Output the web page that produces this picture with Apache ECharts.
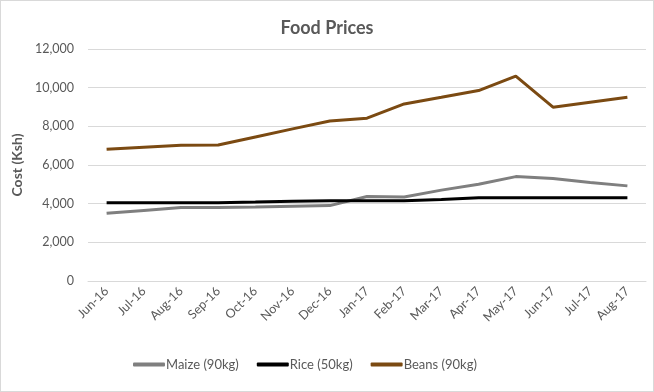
<!DOCTYPE html>
<html>
<head>
<meta charset="utf-8">
<script src="https://cdn.jsdelivr.net/npm/echarts@6/dist/echarts.min.js"></script>
<style>
html,body{margin:0;padding:0;background:#fff;}
#c{width:652px;height:390px;border:1px solid #d9d9d9;}
</style>
</head>
<body>
<div id="c"></div>
<script>
const categories = ['Jun-16','Jul-16','Aug-16','Sep-16','Oct-16','Nov-16','Dec-16','Jan-17','Feb-17','Mar-17','Apr-17','May-17','Jun-17','Jul-17','Aug-17'];
const maize = [3500, 3650, 3800, 3800, 3830, 3870, 3900, 4370, 4350, 4700, 5000, 5400, 5300, 5100, 4920];
const rice  = [4050, 4050, 4050, 4050, 4080, 4120, 4150, 4150, 4150, 4220, 4300, 4300, 4300, 4300, 4300];
const beans = [6820, 6920, 7020, 7030, 7450, 7870, 8280, 8420, 9160, 9500, 9850, 10600, 8990, 9250, 9500];
const yTicks = [0, 2000, 4000, 6000, 8000, 10000, 12000];

const font = 'Lato, "Open Sans", sans-serif';
const chart = echarts.init(document.getElementById('c'));
chart.setOption({
  animation: false,
  title: {
    text: 'Food Prices', left: 'center', top: 13,
    textStyle: {fontFamily: font, fontSize: 18, fontWeight: 'bold', color: '#595959'}
  },
  legend: {
    left: 127, bottom: 15, itemGap: 18, itemWidth: 32, itemHeight: 4,
    icon: 'roundRect',
    textStyle: {fontFamily: font, fontSize: 13, color: '#595959', padding: [0,0,0,-4]},
    data: ['Maize (90kg)', 'Rice (50kg)', 'Beans (90kg)']
  },
  grid: {left: 87, right: 7, top: 48, bottom: 110},
  xAxis: {
    type: 'category', data: categories, boundaryGap: true,
    axisLine: {lineStyle: {color: '#d9d9d9'}},
    axisTick: {show: false},
    axisLabel: {rotate: 45, fontFamily: font, fontSize: 12.5, color: '#595959', margin: 8, interval: 0}
  },
  yAxis: {
    type: 'value', min: yTicks[0], max: yTicks[yTicks.length-1], interval: 2000,
    name: 'Cost (Ksh)', nameLocation: 'middle', nameGap: 62, nameRotate: 90,
    nameTextStyle: {fontFamily: font, fontSize: 14, fontWeight: 'bold', color: '#595959'},
    axisLine: {show: false}, axisTick: {show: false},
    splitLine: {lineStyle: {color: '#d9d9d9'}},
    axisLabel: {
      fontFamily: font, fontSize: 12.5, color: '#595959', margin: 14,
      formatter: v => v.toLocaleString('en-US')
    }
  },
  series: [
    {name: 'Maize (90kg)', type: 'line', data: maize, symbol: 'none', color: '#7f7f7f', lineStyle: {width: 3, color: '#7f7f7f'}},
    {name: 'Rice (50kg)', type: 'line', data: rice, symbol: 'none', color: '#000000', lineStyle: {width: 3, color: '#000000'}},
    {name: 'Beans (90kg)', type: 'line', data: beans, symbol: 'none', color: '#7b4a12', lineStyle: {width: 3, color: '#7b4a12'}}
  ]
});
</script>
</body>
</html>
